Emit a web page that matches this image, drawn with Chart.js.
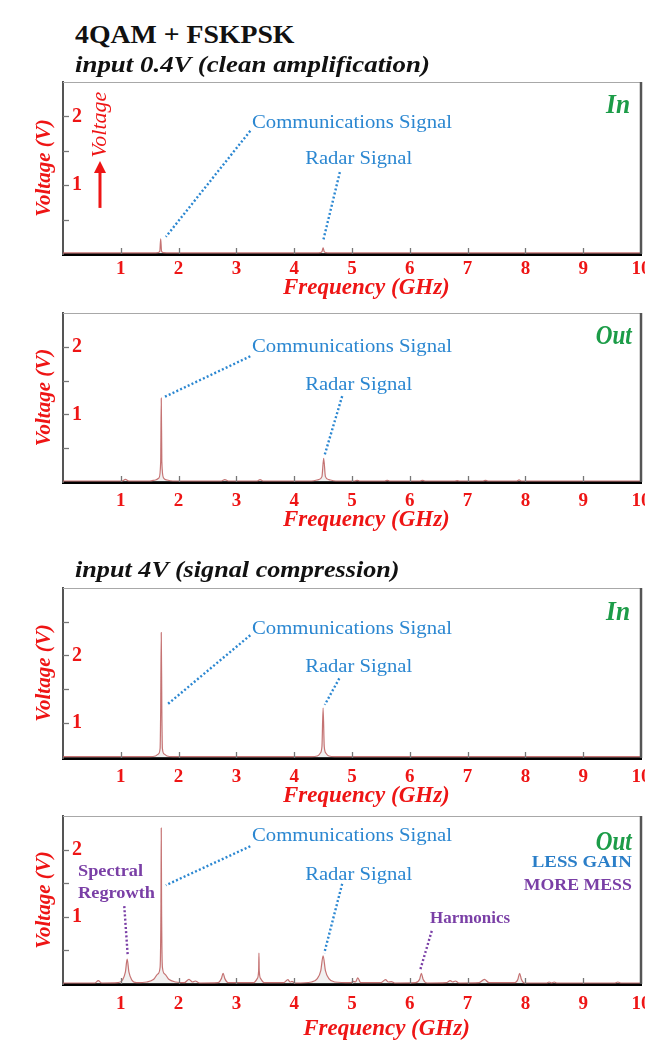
<!DOCTYPE html>
<html>
<head>
<meta charset="utf-8">
<script src="https://cdn.jsdelivr.net/npm/chart.js@4.4.1/dist/chart.umd.min.js"></script>
<style>
  body { margin: 0; background: #fff; width: 645px; height: 1045px; position: relative; overflow: hidden; }
  .head { position: absolute; left: 75px; font-family: "Liberation Serif", serif; color: #111; white-space: nowrap; z-index: 2; transform-origin: left center; }
  #h1 { top: 20px; font-size: 26px; font-weight: bold; }
  #h2 { top: 51px; font-size: 24px; font-weight: bold; font-style: italic; }
  #h3 { top: 556px; font-size: 24px; font-weight: bold; font-style: italic; }
  canvas { position: absolute; left: 0; }
</style>
</head>
<body>
<div class="head" id="h1" data-w="220">4QAM + FSKPSK</div>
<div class="head" id="h2" data-w="355">input 0.4V (clean amplification)</div>
<div class="head" id="h3" data-w="325">input 4V (signal compression)</div>
<canvas id="c1" width="645" height="232" style="top:70px"></canvas>
<canvas id="c2" width="645" height="232" style="top:302px"></canvas>
<canvas id="c3" width="645" height="230" style="top:580px"></canvas>
<canvas id="c4" width="645" height="235" style="top:810px"></canvas>
<script>
// frequency (GHz) / voltage (V)
const freqIn04 = [0, 1.55, 1.64, 1.675, 1.69, 1.705, 1.74, 1.83, 4.38, 4.45, 4.48, 4.50, 4.52, 4.55, 4.62, 10];
const voltIn04 = [0.015, 0.015, 0.02, 0.04, 0.22, 0.04, 0.02, 0.015, 0.015, 0.02, 0.035, 0.09, 0.035, 0.02, 0.015, 0.015];

const freqOut04 = [0, 1.02, 1.08, 1.14, 1.5, 1.6, 1.66, 1.69, 1.70, 1.71, 1.74, 1.8, 1.9,
  2.74, 2.8, 2.86, 3.36, 3.41, 3.46, 4.3, 4.42, 4.48, 4.51, 4.54, 4.6, 4.72,
  5.05, 5.09, 5.13, 5.57, 5.61, 5.65, 6.18, 6.22, 6.26, 6.78, 6.82, 6.86, 7.27, 7.31, 7.35, 7.85, 7.89, 7.93, 10];
const voltOut04 = [0.015, 0.015, 0.04, 0.015, 0.015, 0.03, 0.06, 0.3, 1.24, 0.3, 0.06, 0.03, 0.015,
  0.015, 0.035, 0.015, 0.015, 0.035, 0.015, 0.015, 0.035, 0.08, 0.35, 0.08, 0.035, 0.015,
  0.015, 0.025, 0.015, 0.015, 0.025, 0.015, 0.015, 0.025, 0.015, 0.015, 0.02, 0.015, 0.015, 0.025, 0.015, 0.015, 0.03, 0.015, 0.015];

const freqIn4 = [0, 1.5, 1.6, 1.65, 1.68, 1.69, 1.70, 1.71, 1.72, 1.75, 1.8, 1.9,
  4.3, 4.4, 4.45, 4.48, 4.50, 4.52, 4.55, 4.6, 4.7, 10];
const voltIn4 = [0.5, 0.5, 0.51, 0.54, 0.62, 1.2, 2.34, 1.2, 0.62, 0.54, 0.51, 0.5,
  0.5, 0.51, 0.55, 0.65, 1.22, 0.65, 0.55, 0.51, 0.5, 0.5];

const freqOut4 = [0, 0.55, 0.61, 0.67, 0.95, 1.03, 1.08, 1.11, 1.14, 1.19, 1.27,
  1.45, 1.57, 1.64, 1.68, 1.695, 1.70, 1.705, 1.72, 1.76, 1.83, 1.95,
  2.1, 2.18, 2.24, 2.29, 2.36, 2.68, 2.74, 2.77, 2.80, 2.86,
  3.3, 3.36, 3.385, 3.39, 3.395, 3.42, 3.48, 3.82, 3.89, 3.93, 3.96, 4.02,
  4.3, 4.4, 4.46, 4.5, 4.54, 4.6, 4.7, 4.98, 5.02, 5.06, 5.1, 5.15,
  5.5, 5.58, 5.63, 5.68, 5.74, 6.1, 6.17, 6.2, 6.23, 6.3,
  6.63, 6.7, 6.74, 6.79, 6.85, 7.2, 7.29, 7.37, 7.82, 7.87, 7.9, 7.93, 7.98,
  8.37, 8.41, 8.45, 8.5, 8.54, 9.55, 9.6, 9.65, 10];
const voltOut4 = [0.015, 0.015, 0.05, 0.015, 0.02, 0.06, 0.18, 0.37, 0.18, 0.06, 0.02,
  0.03, 0.07, 0.15, 0.25, 1.2, 2.32, 1.2, 0.25, 0.15, 0.07, 0.03,
  0.02, 0.07, 0.03, 0.045, 0.015, 0.02, 0.08, 0.16, 0.08, 0.02,
  0.02, 0.08, 0.2, 0.46, 0.2, 0.08, 0.02, 0.02, 0.065, 0.03, 0.04, 0.015,
  0.03, 0.08, 0.2, 0.42, 0.2, 0.08, 0.03, 0.02, 0.04, 0.03, 0.09, 0.02,
  0.02, 0.065, 0.03, 0.035, 0.015, 0.02, 0.07, 0.16, 0.07, 0.015,
  0.02, 0.05, 0.03, 0.045, 0.015, 0.02, 0.07, 0.02, 0.02, 0.07, 0.16, 0.07, 0.015,
  0.015, 0.03, 0.015, 0.03, 0.015, 0.015, 0.03, 0.015, 0.015];

const freqTicks = [1, 2, 3, 4, 5, 6, 7, 8, 9, 10];

const SERIF = '"Liberation Serif", "Times New Roman", serif';
const BLUE = '#2b87d1';
const PURPLE = '#7a3fa6';
const GREEN = '#1c9c48';
const RED = '#ee1515';

// headings are a little wider than the font gives
document.querySelectorAll('.head').forEach(el => {
  el.style.transform = 'scaleX(' + (el.dataset.w / el.offsetWidth) + ')';
});

const panelDecor = {
  id: 'panelDecor',
  afterDraw(chart, args, opts) {
    const { ctx, chartArea: a } = chart;
    const xs = chart.scales.x, ys = chart.scales.y;
    const P = (p) => [xs.getPixelForValue(p[0]), ys.getPixelForValue(p[1])];
    ctx.save();
    // frame: light top, dark right
    ctx.strokeStyle = '#a8a8a8'; ctx.lineWidth = 1;
    ctx.beginPath(); ctx.moveTo(a.left, a.top + 0.5); ctx.lineTo(a.right, a.top + 0.5); ctx.stroke();
    ctx.strokeStyle = '#555'; ctx.lineWidth = 2.5;
    ctx.beginPath(); ctx.moveTo(a.right, a.top); ctx.lineTo(a.right, a.bottom); ctx.stroke();
    // inward tick marks
    ctx.strokeStyle = '#777'; ctx.lineWidth = 1.3;
    xs.ticks.forEach(t => {
      if (t.value <= xs.min || t.value >= xs.max) return;
      const px = Math.round(xs.getPixelForValue(t.value)) + 0.5;
      ctx.beginPath(); ctx.moveTo(px, a.bottom); ctx.lineTo(px, a.bottom - 6); ctx.stroke();
    });
    ys.ticks.forEach(t => {
      if (t.value <= ys.min + 0.05 || t.value >= ys.max - 0.05) return;
      const py = Math.round(ys.getPixelForValue(t.value)) + 0.5;
      ctx.beginPath(); ctx.moveTo(a.left, py); ctx.lineTo(a.left + 6, py); ctx.stroke();
    });
    // dotted leaders
    (opts.leaders || []).forEach(l => {
      const [x1, y1] = P(l.from), [x2, y2] = P(l.to);
      ctx.strokeStyle = l.color; ctx.lineWidth = 2.4; ctx.setLineDash([2, 2.2]);
      ctx.beginPath(); ctx.moveTo(x1, y1); ctx.lineTo(x2, y2); ctx.stroke();
    });
    ctx.setLineDash([]);
    // arrow with rotated word
    if (opts.arrow) {
      const ar = opts.arrow;
      const [ax, ay1] = P(ar.from), [, ay2] = P(ar.to);
      ctx.strokeStyle = RED; ctx.fillStyle = RED; ctx.lineWidth = 3;
      ctx.beginPath(); ctx.moveTo(ax, ay1); ctx.lineTo(ax, ay2 + 8); ctx.stroke();
      ctx.beginPath(); ctx.moveTo(ax, ay2); ctx.lineTo(ax - 6, ay2 + 12); ctx.lineTo(ax + 6, ay2 + 12); ctx.closePath(); ctx.fill();
      const [tx, ty] = P(ar.textAt);
      ctx.save();
      ctx.translate(tx, ty); ctx.rotate(-Math.PI / 2);
      ctx.font = 'italic 21px ' + SERIF; ctx.textAlign = 'center'; ctx.textBaseline = 'middle';
      const w = ctx.measureText(ar.text).width;
      ctx.scale(ar.width / w, 1);
      ctx.fillText(ar.text, 0, 0);
      ctx.restore();
    }
    // labels
    (opts.labels || []).forEach(l => {
      const [px, py] = P([l.x, l.y]);
      ctx.font = l.font; ctx.fillStyle = l.color;
      ctx.textAlign = 'left'; ctx.textBaseline = 'middle';
      const w = ctx.measureText(l.text).width;
      const sx = l.width ? l.width / w : 1;
      const left = l.align === 'right' ? px - w * sx : px;
      ctx.save();
      ctx.translate(left, py); ctx.scale(sx, 1);
      ctx.fillText(l.text, 0, 0);
      ctx.restore();
    });
    ctx.restore();
  }
};

function commLabels(commY, radarY) {
  return [
    { text: 'Communications Signal', x: 3.27, y: commY, color: BLUE, font: '18px ' + SERIF, width: 200 },
    { text: 'Radar Signal', x: 4.19, y: radarY, color: BLUE, font: '18px ' + SERIF, width: 107 }
  ];
}

function makeChart(id, freq, volt, cfg) {
  const points = freq.map((f, i) => ({ x: f, y: volt[i] }));
  return new Chart(document.getElementById(id), {
    type: 'line',
    data: {
      datasets: [{
        data: points,
        borderColor: 'rgba(188, 92, 92, 0.85)',
        borderWidth: 1.2,
        pointRadius: 0,
        cubicInterpolationMode: 'monotone',
        fill: 'start',
        backgroundColor: 'rgba(200, 200, 200, 0.25)'
      }]
    },
    options: {
      responsive: false,
      animation: false,
      events: [],
      layout: { autoPadding: false, padding: { top: cfg.padTop, right: 4, bottom: 0, left: 0 } },
      plugins: {
        legend: { display: false },
        tooltip: { enabled: false },
        panelDecor: { labels: cfg.labels, leaders: cfg.leaders, arrow: cfg.arrow }
      },
      scales: {
        x: {
          type: 'linear', min: 0, max: 10,
          afterBuildTicks: s => { s.ticks = freqTicks.map(v => ({ value: v })); },
          afterFit: s => { s.height = cfg.xHeight; s.paddingLeft = 0; s.paddingRight = 0; },
          grid: { display: false, drawTicks: false },
          border: { color: '#000', width: 3 },
          ticks: {
            autoSkip: false, maxRotation: 0, padding: cfg.tickPad,
            color: RED, font: { family: SERIF, size: 19, weight: 'bold' }
          },
          title: {
            display: true, text: ' '.repeat(cfg.titleShift) + 'Frequency (GHz)', color: RED,
            font: { family: SERIF, size: 23, weight: 'bold', style: 'italic' },
            padding: { top: 0, bottom: cfg.titlePad }
          }
        },
        y: {
          min: cfg.yMin, max: cfg.yMax,
          afterFit: s => { s.width = 63; s.paddingTop = 0; s.paddingBottom = 0; },
          grid: { display: false, drawTicks: false },
          border: { color: '#555', width: 2 },
          ticks: {
            stepSize: 0.5, includeBounds: false, mirror: true, padding: 9,
            color: RED, font: { family: SERIF, size: 20, weight: 'bold' },
            callback: v => (Number.isInteger(v) && v > 0 && v <= 2 ? String(v) : '')
          },
          title: {
            display: true, text: 'Voltage (V)', color: RED,
            font: { family: SERIF, size: 21, weight: 'bold', style: 'italic' },
            padding: { top: 32, bottom: 0 }
          }
        }
      }
    },
    plugins: [panelDecor]
  });
}

const inFont = 'bold italic 27px ' + SERIF;

makeChart('c1', freqIn04, voltIn04, {
  padTop: 12, xHeight: 48, tickPad: 4, titlePad: 0, titleShift: 5, yMin: 0, yMax: 2.5,
  labels: commLabels(1.90, 1.37).concat([
    { text: 'In', x: 9.81, y: 2.15, color: GREEN, font: inFont, width: 24, align: 'right' }
  ]),
  leaders: [
    { from: [3.24, 1.79], to: [1.78, 0.25], color: BLUE },
    { from: [4.79, 1.19], to: [4.50, 0.19], color: BLUE }
  ],
  arrow: { from: [0.64, 0.67], to: [0.64, 1.35], textAt: [0.64, 1.88], text: 'Voltage', width: 66 }
});

makeChart('c2', freqOut04, voltOut04, {
  padTop: 11, xHeight: 52, tickPad: 8, titlePad: 0, titleShift: 5, yMin: 0, yMax: 2.5,
  labels: commLabels(2.0, 1.43).concat([
    { text: 'Out', x: 9.84, y: 2.14, color: GREEN, font: inFont, width: 36, align: 'right' }
  ]),
  leaders: [
    { from: [3.24, 1.86], to: [1.76, 1.26], color: BLUE },
    { from: [4.83, 1.27], to: [4.52, 0.38], color: BLUE }
  ]
});

makeChart('c3', freqIn4, voltIn4, {
  padTop: 8, xHeight: 52, tickPad: 8, titlePad: 0, titleShift: 5, yMin: 0.48, yMax: 3.0,
  labels: commLabels(2.39, 1.83).concat([
    { text: 'In', x: 9.81, y: 2.63, color: GREEN, font: inFont, width: 24, align: 'right' }
  ]),
  leaders: [
    { from: [3.24, 2.30], to: [1.80, 1.27], color: BLUE },
    { from: [4.78, 1.66], to: [4.53, 1.27], color: BLUE }
  ]
});

makeChart('c4', freqOut4, voltOut4, {
  padTop: 6, xHeight: 61, tickPad: 9, titlePad: 2, titleShift: 12, yMin: 0, yMax: 2.5,
  labels: commLabels(2.20, 1.62).concat([
    { text: 'Out', x: 9.84, y: 2.10, color: GREEN, font: inFont, width: 36, align: 'right' },
    { text: 'LESS GAIN', x: 9.84, y: 1.80, color: '#2a7ec8', font: 'bold 17px ' + SERIF, width: 100, align: 'right' },
    { text: 'MORE MESS', x: 9.84, y: 1.46, color: PURPLE, font: 'bold 17px ' + SERIF, width: 108, align: 'right' },
    { text: 'Spectral', x: 0.26, y: 1.67, color: PURPLE, font: 'bold 17px ' + SERIF, width: 65 },
    { text: 'Regrowth', x: 0.26, y: 1.35, color: PURPLE, font: 'bold 17px ' + SERIF, width: 77 },
    { text: 'Harmonics', x: 6.35, y: 0.98, color: PURPLE, font: 'bold 17px ' + SERIF, width: 80 }
  ]),
  leaders: [
    { from: [3.24, 2.05], to: [1.78, 1.47], color: BLUE },
    { from: [4.83, 1.49], to: [4.52, 0.46], color: BLUE },
    { from: [1.06, 1.16], to: [1.12, 0.42], color: PURPLE },
    { from: [6.38, 0.79], to: [6.18, 0.21], color: PURPLE }
  ]
});
</script>
</body>
</html>
